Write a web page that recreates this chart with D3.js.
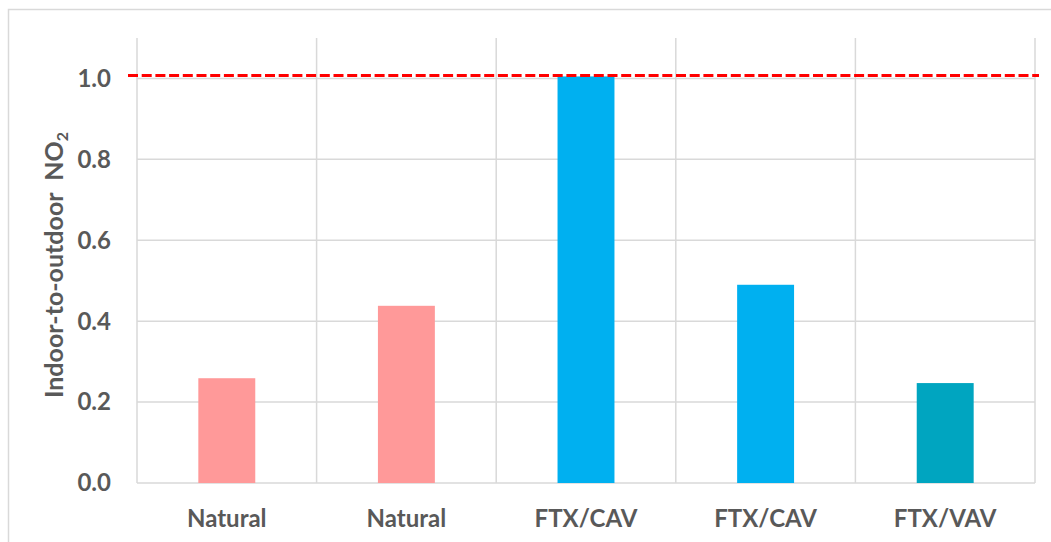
<!DOCTYPE html>
<html>
<head>
<meta charset="utf-8">
<script src="https://cdn.jsdelivr.net/npm/d3@7"></script>
<style>
  body { margin: 0; background: #fff; }
  text { font-family: Lato, "Open Sans", sans-serif; font-weight: bold; fill: #595959; }
</style>
</head>
<body>
<div id="chart"></div>
<script>
// data
let categories = ['Natural', 'Natural', 'FTX/CAV', 'FTX/CAV', 'FTX/VAV'];
let ratios = [0.259, 0.438, 1.005, 0.49, 0.247];
let bar_colors = ['#FF9999', '#FF9999', '#00B0F0', '#00B0F0', '#00A5C0'];
let y_ticks = [0, 0.2, 0.4, 0.6, 0.8, 1.0];
let reference_line = 1.007;

//----------------------------------------
// SVG setup
let width = 1051,
    height = 542;
let margin = {left: 137, right: 16, top: 38, bottom: 59};

let svg = d3.select('#chart').append('svg')
    .attr('width', width)
    .attr('height', height);

// outer chart frame (runs off the right and bottom edges)
svg.append('rect')
    .attr('x', 8.5).attr('y', 9.5)
    .attr('width', 1200).attr('height', 700)
    .style('fill', 'none')
    .style('stroke', '#d9d9d9')
    .style('stroke-width', 1.5);

//----------------------------------------
// Scales
let idx = d3.range(categories.length);
let x_grid = d3.scaleBand()
    .domain(idx)
    .range([margin.left, width - margin.right]);
let x_bar = d3.scaleBand()
    .domain(idx)
    .range([margin.left, width - margin.right])
    .paddingInner(0.683)
    .paddingOuter(0.3415);
let y = d3.scaleLinear()
    .domain([0, 1.1])
    .range([height - margin.bottom, margin.top]);

//----------------------------------------
// Grid
let grid = svg.append('g')
    .style('stroke', '#d9d9d9')
    .style('stroke-width', 1.5);

grid.selectAll('.hgrid')
    .data(y_ticks)
    .enter()
    .append('line')
    .attr('x1', margin.left)
    .attr('x2', width - margin.right)
    .attr('y1', d => y(d))
    .attr('y2', d => y(d));

let v_edges = idx.map(i => x_grid(i)).concat([x_grid.range()[1]]);
grid.selectAll('.vgrid')
    .data(v_edges)
    .enter()
    .append('line')
    .attr('x1', d => d)
    .attr('x2', d => d)
    .attr('y1', y(0))
    .attr('y2', y(1.1));

//----------------------------------------
// Bars
svg.selectAll('.bar')
    .data(ratios)
    .enter()
    .append('rect')
    .attr('x', (d, i) => x_bar(i))
    .attr('width', x_bar.bandwidth())
    .attr('y', d => y(d))
    .attr('height', d => y(0) - y(d))
    .style('fill', (d, i) => bar_colors[i]);

// reference line at ratio 1
svg.append('line')
    .attr('x1', margin.left - 9)
    .attr('x2', width - margin.right + 4)
    .attr('y1', y(reference_line))
    .attr('y2', y(reference_line))
    .style('stroke', '#FF0000')
    .style('stroke-width', 3)
    .style('stroke-dasharray', '10,3.7');

//----------------------------------------
// Axis labels
svg.selectAll('.ytick')
    .data(y_ticks)
    .enter()
    .append('text')
    .attr('x', 111)
    .attr('y', d => y(d))
    .attr('dy', '0.35em')
    .attr('text-anchor', 'end')
    .style('font-size', '24px')
    .text(d => d.toFixed(1));

svg.selectAll('.xtick')
    .data(categories)
    .enter()
    .append('text')
    .attr('x', (d, i) => x_grid(i) + x_grid.bandwidth() / 2)
    .attr('y', 527)
    .attr('text-anchor', 'middle')
    .style('font-size', '24px')
    .text(d => d);

let ylab = svg.append('text')
    .attr('transform', 'translate(63,265) rotate(-90)')
    .attr('text-anchor', 'middle')
    .style('font-size', '25px');
ylab.append('tspan').text('Indoor-to-outdoor\u00a0\u00a0NO');
ylab.append('tspan')
    .attr('dy', 5)
    .style('font-size', '16px')
    .text('2');
</script>
</body>
</html>
